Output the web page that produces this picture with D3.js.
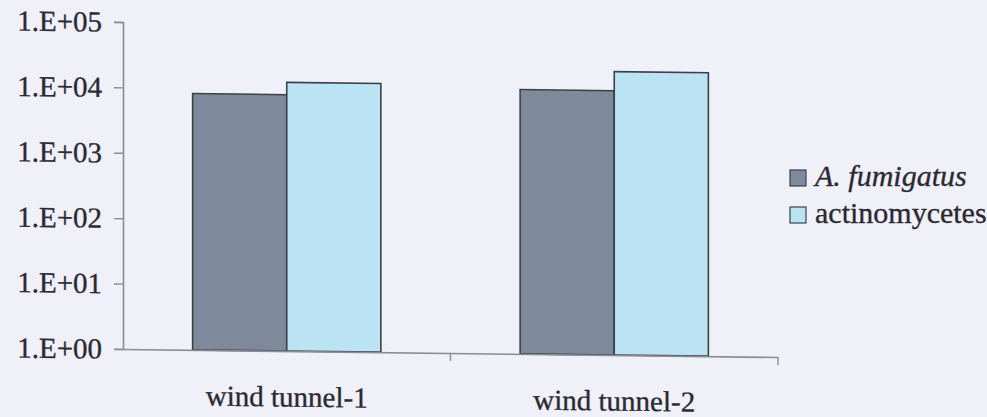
<!DOCTYPE html>
<html>
<head>
<meta charset="utf-8">
<script src="https://cdn.jsdelivr.net/npm/d3@7"></script>
<style>
  body { margin: 0; background: #f0f0f8; }
  svg { display: block; }
  text { font-family: "Liberation Serif", "Times New Roman", serif; fill: #2a2a32; stroke: #2a2a32; stroke-width: 0.35px; }
</style>
</head>
<body>
<svg id="chart" width="987" height="417"></svg>
<script>
// Airborne counts per sampling site (log scale)
const categories = ["wind tunnel-1", "wind tunnel-2"];
const seriesNames = ["A. fumigatus", "actinomycetes"];
const fumigatusValues = [8300, 11000];
const actinomycetesValues = [12800, 21500];
const tickValues = [1, 10, 100, 1000, 10000, 100000];
const tickLabels = ["1.E+00", "1.E+01", "1.E+02", "1.E+03", "1.E+04", "1.E+05"];
const seriesColors = ["#7f899c", "#bce3f3"];

const seriesValues = [fumigatusValues, actinomycetesValues];
const rows = categories.map((c, i) => ({
  category: c,
  values: seriesNames.map((s, j) => ({ series: s, value: seriesValues[j][i] }))
}));

const svg = d3.select("#chart");
const plotLeft = 123, plotRight = 778, plotTop = 22, plotBottom = 349;
const fontSize = 29;

const x = d3.scaleBand().domain(categories).range([plotLeft, plotRight]).paddingInner(0).paddingOuter(0);
const xInner = d3.scaleBand().domain(seriesNames).range([0, x.bandwidth()]).paddingInner(0).paddingOuter(0.74);
const y = d3.scaleLog().domain([1, 100000]).range([plotBottom, plotTop]);
const color = d3.scaleOrdinal().domain(seriesNames).range(seriesColors);

// the printed plot sits on a slight slope
const slope = 0.7;
const plot = svg.append("g")
  .attr("transform", `translate(${plotLeft},0) skewY(${slope}) translate(${-plotLeft},0)`);

// bars
plot.append("g").selectAll("g")
  .data(rows)
  .join("g")
  .attr("transform", d => `translate(${x(d.category)},0)`)
  .selectAll("rect")
  .data(d => d.values)
  .join("rect")
  .attr("x", d => xInner(d.series))
  .attr("width", xInner.bandwidth())
  .attr("y", d => y(d.value))
  .attr("height", d => y(1) - y(d.value))
  .attr("fill", d => color(d.series))
  .attr("stroke", "#3b4149")
  .attr("stroke-width", 1.6);

// y axis
const yAxis = d3.axisLeft(y)
  .tickValues(tickValues)
  .tickFormat((d, i) => tickLabels[i])
  .tickSize(9)
  .tickPadding(12);
const yg = plot.append("g").attr("transform", `translate(${plotLeft},0)`).call(yAxis);
yg.select(".domain").attr("stroke", "#8a8c96").attr("stroke-width", 1.6);
yg.selectAll(".tick line").attr("stroke", "#8a8c96").attr("stroke-width", 1.4);
yg.selectAll(".tick text").attr("font-size", fontSize);

// x axis: baseline, boundary ticks and category labels
const xAxis = d3.axisBottom(x).tickSize(0).tickPadding(35);
const xg = plot.append("g").attr("transform", `translate(0,${plotBottom})`).call(xAxis);
xg.select(".domain").attr("stroke", "#8a8c96").attr("stroke-width", 1.6);
xg.selectAll(".tick text").attr("font-size", fontSize);
const bounds = categories.map(c => x(c) + x.bandwidth());
xg.selectAll("line.bound")
  .data(bounds)
  .join("line")
  .attr("class", "bound")
  .attr("x1", d => d).attr("x2", d => d)
  .attr("y1", 0).attr("y2", 8)
  .attr("stroke", "#8a8c96").attr("stroke-width", 1.4);

// legend
const legend = svg.append("g").attr("transform", "translate(790,170)");
const item = legend.selectAll("g")
  .data(seriesNames)
  .join("g")
  .attr("transform", (d, i) => `translate(0,${i * 37})`);
item.append("rect")
  .attr("width", 16).attr("height", 16)
  .attr("fill", d => color(d))
  .attr("stroke", "#3b4149").attr("stroke-width", 1.2);
item.append("text")
  .attr("x", 25).attr("y", 16)
  .attr("font-size", 30)
  .attr("font-style", (d, i) => i === 0 ? "italic" : "normal")
  .text(d => d);
</script>
</body>
</html>
